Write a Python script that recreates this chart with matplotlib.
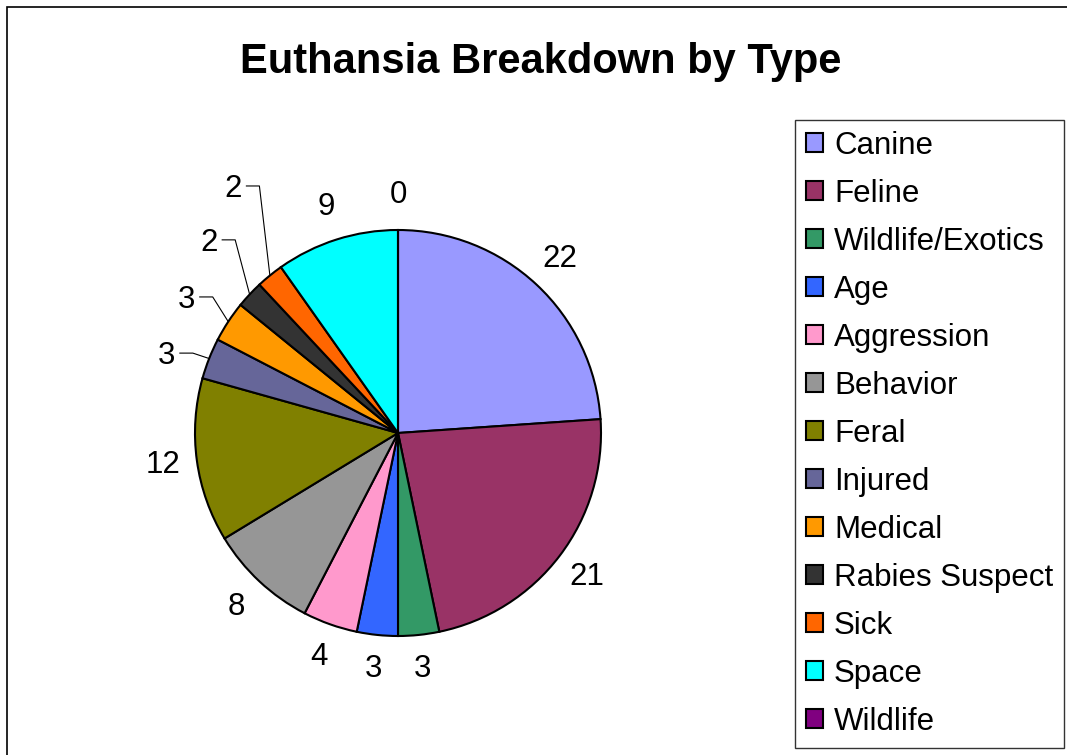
import numpy as np
import matplotlib
matplotlib.use("Agg")
import matplotlib.pyplot as plt
from matplotlib.patches import Rectangle

plt.rcParams['font.family'] = ['Liberation Sans', 'DejaVu Sans']

categories = ['Canine', 'Feline', 'Wildlife/Exotics', 'Age', 'Aggression', 'Behavior',
              'Feral', 'Injured', 'Medical', 'Rabies Suspect', 'Sick', 'Space', 'Wildlife']
counts = [22, 21, 3, 3, 4, 8, 12, 3, 3, 2, 2, 9, 0]
colors = ['#9999FF', '#993366', '#339966', '#3366FF', '#FF99CC', '#969696',
          '#808000', '#666699', '#FF9900', '#333333', '#FF6600', '#00FFFF', '#800080']

# labels that need a leader line: (angle in deg, distance as fraction of radius)
leader_pos = {'Injured': (161.6, 1.20), 'Medical': (147.8, 1.23),
              'Rabies Suspect': (134.8, 1.32), 'Sick': (124.0, 1.45)}

W, H = 1067, 755
fig = plt.figure(figsize=(W / 100, H / 100), dpi=100)
ax = fig.add_axes([0, 0, 1, 1])

# outer chart border (only left/top visible)
ax.add_patch(Rectangle((7, -20), W + 20, H - 7 + 20, fill=False, ec='black', lw=1.2))

cx, cy, r = 398, H - 433, 203
wedges, _ = ax.pie(counts, colors=colors, startangle=90, counterclock=False,
                   center=(cx, cy), radius=r, frame=True,
                   wedgeprops=dict(edgecolor='black', linewidth=1.5))
ax.set_xlim(0, W)
ax.set_ylim(0, H)
ax.set_aspect('equal')
ax.axis('off')

for w, name, val in zip(wedges, categories, counts):
    mid = np.deg2rad((w.theta1 + w.theta2) / 2)
    if name in leader_pos:
        ang, dist = leader_pos[name]
        a = np.deg2rad(ang)
        tx, ty = cx + dist * r * np.cos(a), cy + dist * r * np.sin(a)
        ex, ey = cx + r * np.cos(mid), cy + r * np.sin(mid)
        ax.plot([tx + 13, tx + 26, ex], [ty + 3, ty + 3, ey], color='black', lw=0.8)
    else:
        tx, ty = cx + 1.17 * r * np.cos(mid), cy + 1.17 * r * np.sin(mid)
    ax.text(tx, ty, str(val), ha='center', va='center', fontsize=22.5)

ax.text(541, H - 62, 'Euthansia Breakdown by Type', ha='center', va='center',
        fontsize=30, fontweight='bold')

leg = ax.legend(wedges, categories, loc='upper left',
                bbox_to_anchor=(795 / W, 1 - 120 / H), bbox_transform=fig.transFigure,
                fontsize=22.5, frameon=True, fancybox=False, edgecolor='black',
                borderaxespad=0, handlelength=0.55, handleheight=0.55,
                handletextpad=0.35, labelspacing=0.575, borderpad=0.35)
leg.get_frame().set_linewidth(1.0)

fig.savefig('out.png', dpi=100)
